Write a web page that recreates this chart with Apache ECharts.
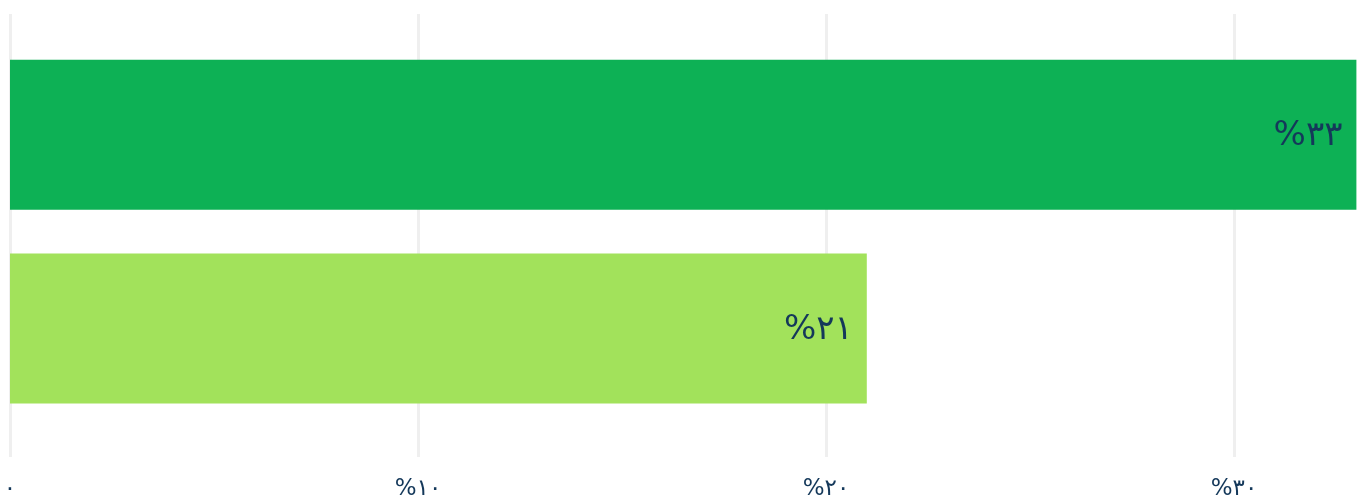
<!DOCTYPE html>
<html>
<head>
<meta charset="utf-8">
<script src="https://cdn.jsdelivr.net/npm/echarts@6/dist/echarts.min.js"></script>
<style>
  html, body { margin: 0; padding: 0; background: #ffffff; }
  #chart { width: 1362px; height: 501px; }
</style>
</head>
<body>
<div id="chart"></div>
<script>
// Share of each group, in percent
const categories = ['گروه اول', 'گروه دوم'];
const shares = [33, 21];
const tickValues = [0, 10, 20, 30];

const barColors = ['#0db155', '#a2e25b'];
const textColor = '#14385a';
const faDigits = '۰۱۲۳۴۵۶۷۸۹';

function toFa(n) {
  return String(n).replace(/[0-9]/g, d => faDigits[+d]);
}
function pct(n) {
  return n === 0 ? toFa(0) : '%' + toFa(n);
}

// 40.8 px per percent across a 1352 px wide plot
const axisMax = 1352 / 40.8;

const chart = echarts.init(document.getElementById('chart'), null, { renderer: 'canvas' });
chart.setOption({
  animation: false,
  backgroundColor: '#ffffff',
  grid: [
    { left: 10, right: 0, top: 14, bottom: 40 },
    { left: 10, right: 0, top: 37.75, bottom: 75.75 }
  ],
  xAxis: [
    {
      gridIndex: 0,
      type: 'value',
      min: 0,
      max: axisMax,
      interval: 10,
      axisLine: { show: false },
      axisTick: { show: false },
      splitLine: { show: true, showMaxLine: false, lineStyle: { color: '#efefef', width: 3 } },
      axisLabel: {
        showMaxLabel: false,
        margin: 21,
        fontFamily: 'DejaVu Sans',
        fontSize: 23,
        color: textColor,
        formatter: v => (tickValues.indexOf(v) >= 0 ? pct(v) : '')
      }
    },
    { gridIndex: 1, type: 'value', min: 0, max: axisMax, show: false }
  ],
  yAxis: [
    { gridIndex: 0, type: 'value', show: false },
    { gridIndex: 1, type: 'category', data: categories, inverse: true, show: false }
  ],
  series: [{
    type: 'bar',
    xAxisIndex: 1,
    yAxisIndex: 1,
    data: shares,
    barWidth: 150,
    itemStyle: { color: p => barColors[p.dataIndex] },
    label: {
      show: true,
      position: 'insideRight',
      distance: 14,
      offset: [0, 2],
      fontFamily: 'DejaVu Sans',
      fontSize: 34,
      color: textColor,
      formatter: p => pct(p.value)
    }
  }]
});
</script>
</body>
</html>
